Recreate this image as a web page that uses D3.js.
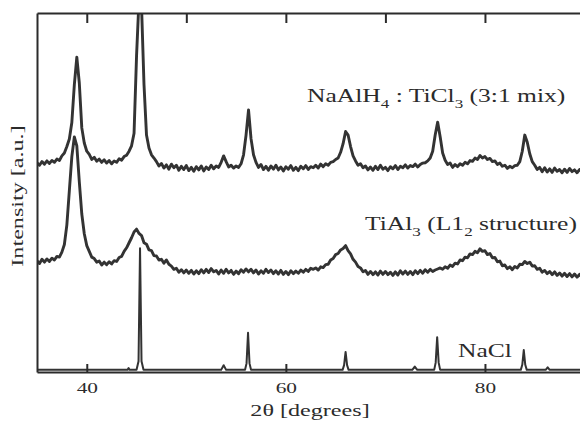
<!DOCTYPE html>
<head>
    <script src="https://d3js.org/d3.v7.min.js"></script>
    <style>
        body { margin: 0; background: #fff; }
        text { font-family: "Liberation Serif", "Times New Roman", serif; fill: #2b2b2b; }
        .frame path, .frame line { stroke: #2b2b2b; stroke-width: 2px; }
        .trace { fill: none; stroke: #333; stroke-linejoin: round; }
    </style>
</head>

<body>
    <script>
        // Scan settings: 2theta from 35 deg in steps of 0.25 deg
        var theta0 = 35, thetaStep = 0.25;

        // NaAlH4 : TiCl3 (3:1 mix), shifted up (one row per degree, 35..89, then 90)
        var mixCounts = [
            58.3, 57.6, 58.6, 57.9,
            58.8, 58.1, 58.9, 58.4,
            59.3, 58.9, 60.2, 61.0,
            62.8, 64.9, 69.5, 80.0,
            87.7, 80.5, 68.0, 63.8,
            61.5, 60.6, 59.2, 59.8,
            58.7, 59.3, 58.4, 59.1,
            58.2, 58.9, 58.0, 58.8,
            58.4, 59.4, 59.0, 60.0,
            60.4, 61.5, 63.0, 66.5,
            88.0, 104, 102, 80.0,
            66.0, 62.4, 60.5, 59.6,
            58.6, 57.4, 58.1, 56.8,
            57.7, 56.5, 57.9, 56.9,
            57.6, 56.2, 57.3, 56.4,
            57.5, 56.1, 57.0, 55.9,
            57.2, 56.3, 57.4, 56.0,
            57.1, 56.4, 57.6, 56.6,
            57.4, 57.0, 58.4, 60.2,
            58.6, 57.1, 57.6, 56.8,
            57.4, 57.0, 58.0, 60.5,
            66.0, 73.0, 65.0, 60.5,
            58.4, 57.0, 57.8, 56.4,
            57.3, 56.2, 57.4, 56.5,
            57.6, 56.3, 57.1, 56.0,
            57.2, 56.5, 57.5, 56.2,
            57.0, 56.1, 57.3, 56.6,
            57.5, 56.4, 57.2, 56.9,
            57.6, 56.8, 57.9, 57.2,
            58.0, 57.6, 58.4, 58.6,
            59.2, 59.6, 61.2, 63.6,
            67.0, 66.0, 62.8, 60.2,
            58.8, 57.6, 58.0, 56.9,
            57.4, 56.3, 57.1, 56.2,
            57.3, 56.4, 57.6, 56.5,
            57.0, 56.1, 57.2, 56.6,
            57.5, 56.4, 57.3, 56.9,
            57.7, 56.8, 57.5, 57.2,
            57.9, 57.1, 57.8, 58.2,
            58.3, 58.8, 59.6, 61.5,
            66.0, 69.6, 65.5, 61.0,
            59.0, 57.8, 58.2, 57.0,
            57.8, 57.2, 58.0, 57.6,
            58.4, 58.0, 58.9, 58.7,
            59.6, 59.2, 60.3, 59.6,
            60.0, 59.2, 59.5, 58.6,
            58.8, 57.8, 58.2, 57.3,
            57.6, 56.7, 57.3, 56.9,
            57.5, 57.6, 58.6, 61.5,
            66.0, 64.0, 60.8, 58.6,
            57.6, 56.4, 57.0, 55.8,
            56.9, 55.7, 56.6, 55.6,
            56.8, 55.9, 56.4, 55.5,
            56.5, 55.6, 56.7, 55.8,
            56.3, 55.5, 56.4, 55.7,
            56.2
        ];

        // TiAl3 (L1_2 structure), shifted up
        var tial3Counts = [
            31.0, 30.2, 31.4, 30.6,
            31.5, 30.8, 31.7, 31.2,
            32.2, 32.0, 33.4, 35.5,
            41.0, 50.5, 60.0, 65.5,
            63.0, 53.0, 44.0, 38.5,
            35.2, 33.6, 32.0, 31.6,
            30.6, 30.9, 29.8, 30.6,
            29.9, 30.7, 30.1, 31.0,
            30.8, 31.9, 32.2, 33.6,
            34.6, 36.0, 37.4, 39.0,
            39.8, 38.6, 38.0, 36.0,
            35.6, 34.0, 33.8, 32.4,
            32.3, 31.2, 31.4, 30.3,
            31.2, 30.0, 29.5, 28.6,
            28.9, 27.8, 28.5, 27.6,
            28.4, 27.5, 28.3, 27.3,
            28.2, 27.4, 28.5, 27.6,
            28.6, 27.7, 28.8, 27.9,
            28.3, 27.3, 28.4, 27.5,
            28.6, 27.6, 28.3, 27.2,
            28.1, 27.4, 28.5, 27.8,
            28.7, 27.9, 28.6, 27.6,
            28.4, 27.3, 28.2, 27.5,
            28.6, 27.7, 28.4, 27.4,
            28.2, 27.3, 28.3, 27.2,
            28.0, 27.1, 28.2, 27.4,
            28.1, 27.5, 28.4, 27.8,
            28.6, 28.0, 28.9, 28.6,
            29.0, 28.4, 29.3, 29.1,
            29.9, 30.0, 31.2, 31.6,
            32.7, 33.0, 34.0, 34.4,
            35.2, 33.8, 32.9, 31.4,
            30.6, 29.4, 29.0, 27.9,
            28.3, 27.2, 28.0, 27.1,
            27.9, 27.0, 28.1, 27.2,
            28.0, 27.1, 27.8, 26.9,
            27.9, 27.0, 28.2, 27.3,
            28.1, 27.2, 28.0, 27.1,
            28.2, 27.4, 28.3, 27.5,
            28.5, 27.8, 28.6, 28.0,
            28.4, 28.7, 29.0, 28.6,
            29.3, 28.9, 29.8, 29.4,
            30.3, 30.1, 31.2, 31.0,
            32.0, 31.8, 32.9, 32.7,
            33.6, 33.2, 34.3, 33.6,
            33.8, 32.7, 33.0, 31.8,
            31.9, 30.7, 30.9, 29.6,
            29.8, 28.8, 29.3, 28.5,
            29.4, 29.0, 30.0, 29.9,
            30.8, 30.2, 30.6, 29.5,
            29.6, 28.6, 28.9, 27.8,
            28.3, 27.4, 28.0, 27.1,
            27.9, 26.9, 27.6, 26.7,
            27.5, 26.6, 27.4, 26.5,
            27.3, 26.4, 27.2, 26.3,
            27.0
        ];

        // NaCl reference pattern (sparse points)
        var naclTheta = [
            35, 44.1, 44.2, 44.3,
            45.0, 45.2, 45.35, 45.5, 45.7,
            53.5, 53.75, 54.0,
            55.9, 56.05, 56.2, 56.35, 56.5,
            65.7, 65.85, 66.0, 66.15, 66.3,
            72.7, 72.95, 73.2,
            74.9, 75.05, 75.2, 75.35, 75.5,
            83.6, 83.75, 83.9, 84.05, 84.2,
            86.1, 86.3, 86.5, 90
        ];
        var naclCounts = [
            0.6, 0.6, 1.1, 0.6,
            0.6, 3.0, 34.5, 3.0, 0.6,
            0.6, 1.9, 0.6,
            0.6, 2.4, 10.9, 2.4, 0.6,
            0.6, 1.9, 5.6, 1.9, 0.6,
            0.6, 1.5, 0.6,
            0.6, 2.6, 9.7, 2.6, 0.6,
            0.6, 2.0, 6.1, 2.0, 0.6,
            0.6, 1.3, 0.6, 0.6
        ];

        var topTicks = [40, 50, 60, 70, 80];
        var bottomTicks = [40, 60, 80];

        var margin = { top: 13, left: 37, bottom: 51 };
        var width = 580, height = 423;
        var stretch = 1.42; // scanned lettering is wide

        var x = d3.scaleLinear().domain([35, 90]).range([margin.left, 584.5]);
        var y = d3.scaleLinear().domain([0, 100]).range([height - margin.bottom, margin.top]);

        var svg = d3.select("body").append("svg")
            .attr("width", width)
            .attr("height", height);

        svg.append("defs").append("clipPath").attr("id", "plot")
            .append("rect")
            .attr("x", x(35)).attr("y", y(100))
            .attr("width", x(90) - x(35)).attr("height", y(0) - y(100));

        function scanPoints(counts) {
            return counts.map(function (c, i) { return [theta0 + i * thetaStep, c]; });
        }

        var line = d3.line()
            .x(function (d) { return x(d[0]); })
            .y(function (d) { return y(d[1]); });

        var traces = svg.append("g").attr("clip-path", "url(#plot)");

        traces.append("path").attr("class", "trace")
            .attr("stroke-width", 2.9)
            .attr("d", line(scanPoints(mixCounts)));

        traces.append("path").attr("class", "trace")
            .attr("stroke-width", 2.9)
            .attr("d", line(scanPoints(tial3Counts)));

        traces.append("path").attr("class", "trace")
            .attr("stroke-width", 2)
            .attr("d", line(naclTheta.map(function (t, i) { return [t, naclCounts[i]]; })));

        // ****************** axes ***************************
        var bottom = svg.append("g").attr("class", "frame")
            .attr("transform", "translate(0," + y(0) + ")")
            .call(d3.axisBottom(x).tickValues(bottomTicks).tickSizeInner(-8).tickSizeOuter(0).tickPadding(10));
        bottom.selectAll("text")
            .style("font-size", "15px")
            .attr("transform", "scale(" + stretch + ",1)");

        svg.append("g").attr("class", "frame")
            .attr("transform", "translate(0," + y(100) + ")")
            .call(d3.axisTop(x).tickValues(topTicks).tickSizeInner(-10).tickSizeOuter(0).tickFormat(""));

        svg.append("g").attr("class", "frame")
            .attr("transform", "translate(" + x(35) + ",0)")
            .call(d3.axisLeft(y).tickValues([]).tickSizeOuter(0));

        svg.append("text")
            .attr("transform", "translate(310,416) scale(" + stretch + ",1)")
            .attr("text-anchor", "middle")
            .style("font-size", "17px")
            .text("2θ [degrees]");

        svg.append("text")
            .attr("transform", "translate(23,196) rotate(-90) scale(" + stretch + ",1)")
            .attr("text-anchor", "middle")
            .style("font-size", "17px")
            .text("Intensity [a.u.]");

        // ****************** series labels ***************************
        // each label: pieces of [text, isSubscript]
        var labels = [
            { x: 307, y: 102, parts: [["NaAlH", 0], ["4", 1], [" : TiCl", 0], ["3", 1], [" (3:1 mix)", 0]] },
            { x: 365, y: 230, parts: [["TiAl", 0], ["3", 1], [" (L1", 0], ["2", 1], [" structure)", 0]] },
            { x: 458, y: 357, parts: [["NaCl", 0]] }
        ];

        labels.forEach(function (lab) {
            var t = svg.append("text")
                .attr("transform", "translate(" + lab.x + "," + lab.y + ") scale(" + stretch + ",1)")
                .style("font-size", "18px");
            var shift = 0;
            lab.parts.forEach(function (p) {
                var dy = p[1] ? 6 - shift : -shift;
                t.append("tspan")
                    .attr("dy", dy)
                    .style("font-size", p[1] ? "12px" : "18px")
                    .text(p[0]);
                shift = p[1] ? 6 : 0;
            });
        });
    </script>
</body>
